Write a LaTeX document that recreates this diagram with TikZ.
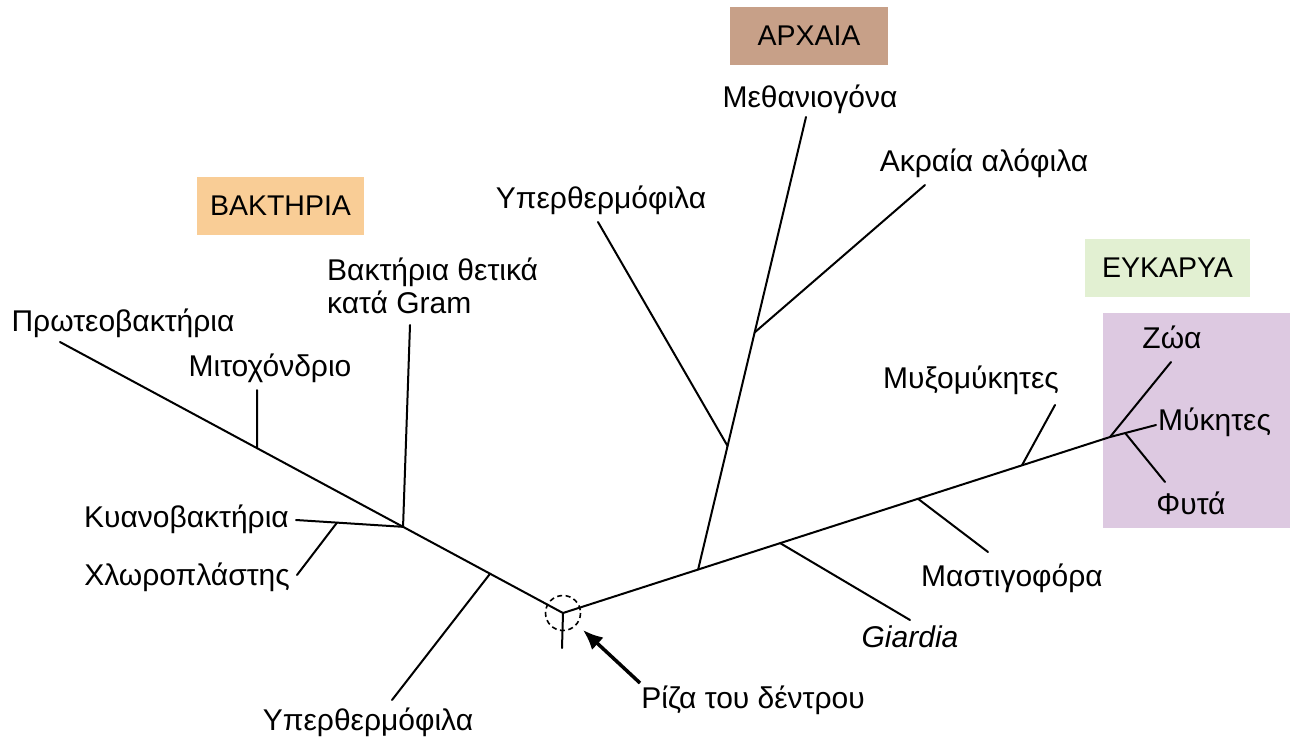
\documentclass[tikz,border=0pt]{standalone}
\usepackage{fontspec}
\setmainfont{Liberation Sans}
\usetikzlibrary{arrows.meta}
\usetikzlibrary{calc}
\tikzset{branch/.style = {line width = 2pt, line cap = round}}
\tikzset{lbl/.style = {font = \fontsize{30}{32.5}\selectfont, inner sep = 0}}
\tikzset{domain/.style = {lbl, font = \fontsize{28.5}{32}\selectfont, fill = #1, minimum height = 58, text depth = 0}}
\definecolor{mbact}{RGB}{249, 205, 150}
\definecolor{march}{RGB}{199, 160, 136}
\definecolor{meuk}{RGB}{226, 240, 210}
\definecolor{mlilac}{RGB}{221, 201, 225}

\begin{document}
\begin{tikzpicture}[x = 1pt, y = -1pt]
    \useasboundingbox (0, 0) rectangle (1297, 750);
    \fill [mlilac] (1103, 313) rectangle (1290, 528);

    % domain labels
    \node [domain = mbact, minimum width = 167] (bact) at (280.5, 206) {ΒΑΚΤΗΡΙΑ};
    \node [domain = march, minimum width = 158] (arch) at (809, 36) {ΑΡΧΑΙΑ};
    \node [domain = meuk, minimum width = 165] (euka) at (1167.5, 268) {ΕΥΚΑΡΥΑ};

    % main branches
    \coordinate (root) at (563, 613);
    \coordinate (stub) at (562, 648);
    \coordinate (proteo) at (60, 342);
    \coordinate (eukj) at (1110, 437);
    \draw [branch] (proteo) -- (root) -- (eukj);
    \draw [branch] (root) -- (stub);
    \draw [dashed, line width = 1.6pt, dash pattern = on 5pt off 3.5pt] (root) circle (17.5);

    % bacteria
    \coordinate (mitoj) at ($(root)!0.608!(proteo)$);
    \coordinate (gramj) at ($(root)!0.318!(proteo)$);
    \coordinate (bhypj) at ($(root)!0.145!(proteo)$);
    \coordinate (mito) at (257, 390);
    \coordinate (gram) at (410, 325);
    \coordinate (cyano) at (296, 520);
    \coordinate (chloroj) at ($(gramj)!0.617!(cyano)$);
    \coordinate (chloro) at (297, 575);
    \coordinate (bhyp) at (392, 700);
    \draw [branch] (mitoj) -- (mito);
    \draw [branch] (gramj) -- (gram);
    \draw [branch] (gramj) -- (cyano);
    \draw [branch] (chloroj) -- (chloro);
    \draw [branch] (bhypj) -- (bhyp);

    % archaea
    \coordinate (archj) at ($(root)!0.247!(eukj)$);
    \coordinate (metha) at (806, 117);
    \coordinate (ahypj) at ($(archj)!0.273!(metha)$);
    \coordinate (haloj) at ($(archj)!0.524!(metha)$);
    \coordinate (ahyp) at (598, 222);
    \coordinate (halo) at (925, 185);
    \draw [branch] (archj) -- (metha);
    \draw [branch] (ahypj) -- (ahyp);
    \draw [branch] (haloj) -- (halo);

    % eukarya
    \coordinate (giarj) at ($(root)!0.397!(eukj)$);
    \coordinate (mastj) at ($(root)!0.649!(eukj)$);
    \coordinate (myxoj) at ($(root)!0.839!(eukj)$);
    \coordinate (giar) at (910, 620);
    \coordinate (mast) at (988, 552);
    \coordinate (myxo) at (1055, 405);
    \coordinate (zoa) at (1171, 362);
    \coordinate (myk) at (1156, 425);
    \coordinate (phytj) at ($(eukj)!0.33!(myk)$);
    \coordinate (phyt) at (1165, 482);
    \draw [branch] (giarj) -- (giar);
    \draw [branch] (mastj) -- (mast);
    \draw [branch] (myxoj) -- (myxo);
    \draw [branch] (eukj) -- (zoa);
    \draw [branch] (eukj) -- (myk);
    \draw [branch] (phytj) -- (phyt);

    % tip labels
    \node [lbl] (lproteo) at (123, 323) {Πρωτεοβακτήρια};
    \node [lbl] (lmito) at (270, 368) {Μιτοχόνδριο};
    \node [lbl, align = left, anchor = west] (lgram) at (327, 286) {Βακτήρια θετικά\\κατά Gram};
    \node [lbl, anchor = east] (lcyano) at (289, 519) {Κυανοβακτήρια};
    \node [lbl, anchor = east] (lchloro) at (290, 577) {Χλωροπλάστης};
    \node [lbl] (lbhyp) at (368, 722) {Υπερθερμόφιλα};
    \node [lbl] (lmetha) at (810, 99) {Μεθανιογόνα};
    \node [lbl] (lhalo) at (984, 163) {Ακραία αλόφιλα};
    \node [lbl] (lahyp) at (601, 200) {Υπερθερμόφιλα};
    \node [lbl] (lgiar) at (910, 637) {\itshape Giardia};
    \node [lbl] (lmast) at (1012, 578) {Μαστιγοφόρα};
    \node [lbl] (lmyxo) at (971, 380) {Μυξομύκητες};
    \node [lbl] (lzoa) at (1172, 337) {Ζώα};
    \node [lbl, anchor = west] (lmyk) at (1158, 422) {Μύκητες};
    \node [lbl] (lphyt) at (1191, 503) {Φυτά};

    % root pointer
    \node [lbl] (lroot) at (753, 700) {Ρίζα του δέντρου};
    \coordinate (tail) at (640, 683);
    \coordinate (tip) at (583, 630);
    \draw [line width = 3.5pt, -{Latex[length = 20pt, width = 17pt]}] (tail) -- (tip);
\end{tikzpicture}
\end{document}
